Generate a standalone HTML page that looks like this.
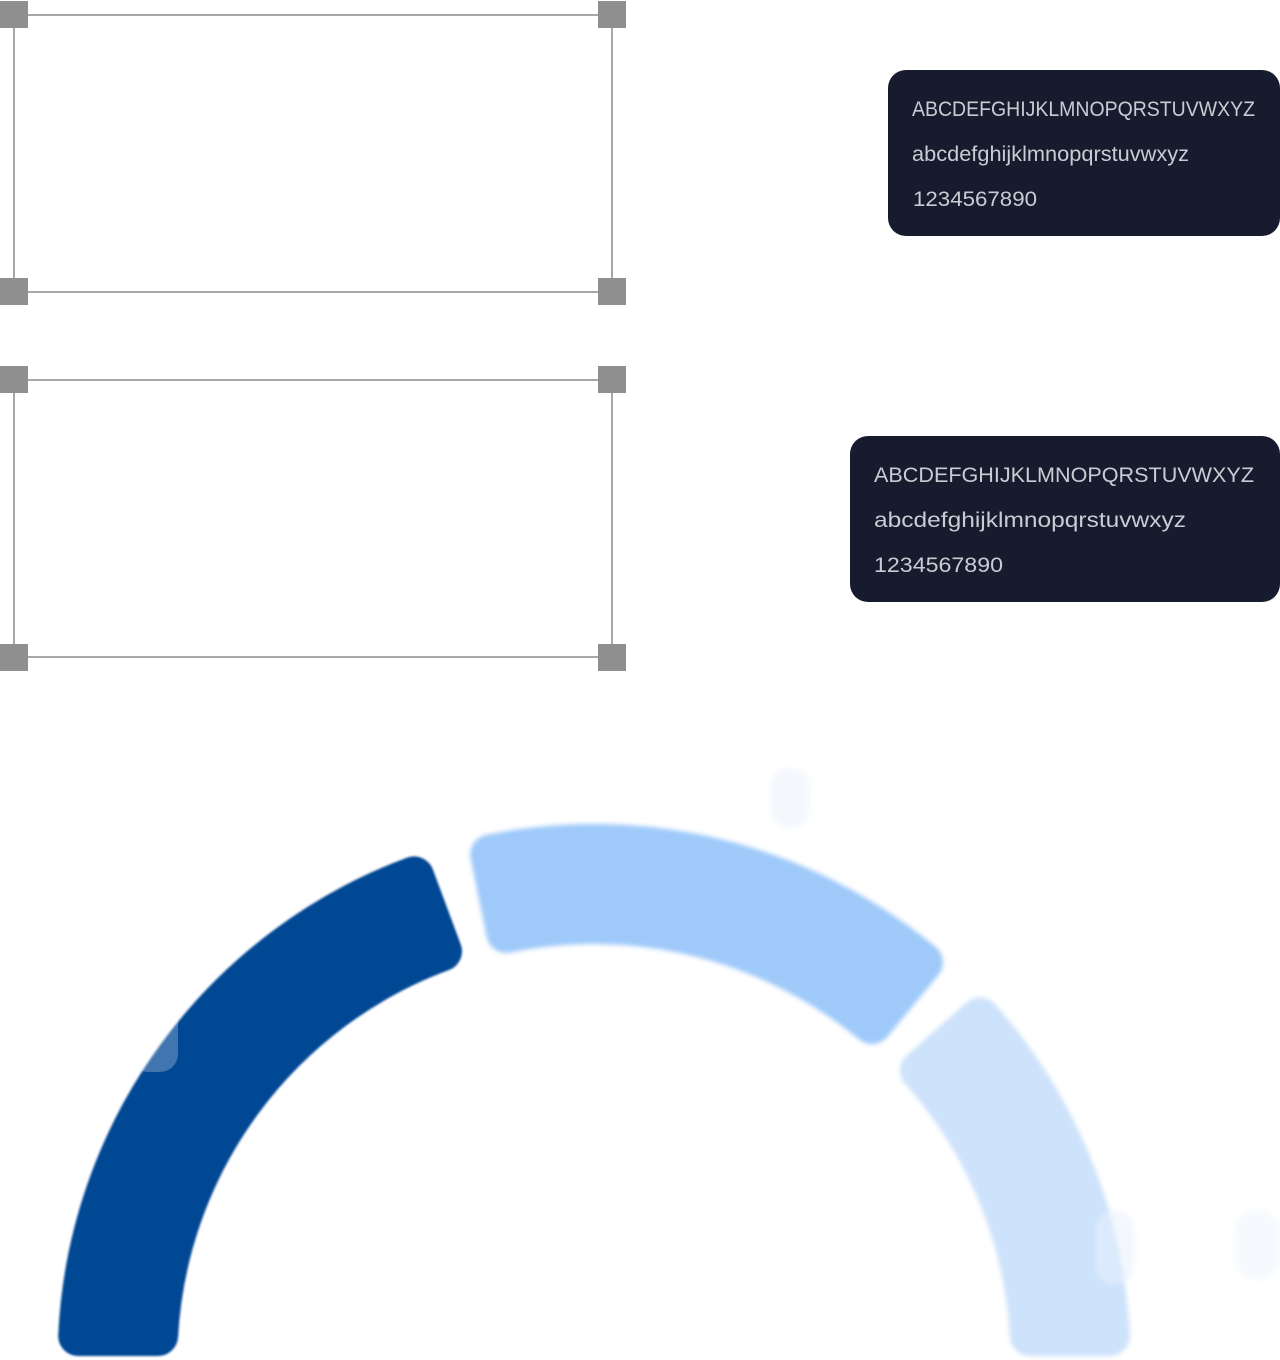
<!DOCTYPE html>
<html><head><meta charset="utf-8"><style>
html,body{margin:0;padding:0;background:#fff;width:1280px;height:1360px;overflow:hidden}
</style></head><body>
<svg width="1280" height="1360" viewBox="0 0 1280 1360" xmlns="http://www.w3.org/2000/svg">
<defs>
<filter id="b" filterUnits="userSpaceOnUse" x="0" y="0" width="1280" height="1360"><feGaussianBlur stdDeviation="2.5"/></filter>
<filter id="b1" filterUnits="userSpaceOnUse" x="0" y="0" width="1280" height="1360"><feGaussianBlur stdDeviation="1"/></filter>
</defs>
<g fill="none" stroke="#8a8a8a" stroke-width="1.5">
<rect x="14" y="15" width="598" height="277"/>
<rect x="14" y="380" width="598" height="277"/>
</g>
<g fill="#8f8f8f">
<rect x="0" y="1" width="28" height="27"/><rect x="598" y="1" width="28" height="27"/>
<rect x="0" y="278" width="28" height="27"/><rect x="598" y="278" width="28" height="27"/>
<rect x="0" y="366" width="28" height="27"/><rect x="598" y="366" width="28" height="27"/>
<rect x="0" y="644" width="28" height="27"/><rect x="598" y="644" width="28" height="27"/>
</g>
<rect x="888" y="70" width="392" height="166" rx="18" fill="#161b2e"/>
<rect x="850" y="436" width="430" height="166" rx="18" fill="#161b2e"/>
<g font-family="Liberation Sans, sans-serif" font-size="21" fill="#c9ccd3">
<text x="912" y="116" textLength="343" lengthAdjust="spacingAndGlyphs">ABCDEFGHIJKLMNOPQRSTUVWXYZ</text>
<text x="912" y="161" textLength="277" lengthAdjust="spacingAndGlyphs">abcdefghijklmnopqrstuvwxyz</text>
<text x="913" y="206" textLength="124" lengthAdjust="spacingAndGlyphs">1234567890</text>
<text x="874" y="482" textLength="380" lengthAdjust="spacingAndGlyphs">ABCDEFGHIJKLMNOPQRSTUVWXYZ</text>
<text x="874" y="527" textLength="312" lengthAdjust="spacingAndGlyphs">abcdefghijklmnopqrstuvwxyz</text>
<text x="874" y="572" textLength="129" lengthAdjust="spacingAndGlyphs">1234567890</text>
</g>
<g stroke-width="40" stroke-linejoin="round">
<path d="M78.2 1336 A516 516 0 0 1 414.1 876.4 L442 951.3 A436 436 0 0 0 158.1 1336 Z" fill="#034694" stroke="#034694" filter="url(#b1)"/>
<path d="M490.2 854.5 A516 516 0 0 1 922.9 962.4 L871.9 1024.1 A436 436 0 0 0 506.3 932.9 Z" fill="#9ec9f9" stroke="#9ec9f9" filter="url(#b)"/>
<path d="M979.9 1017.4 A516 516 0 0 1 1109.8 1336 L1029.9 1336 A436 436 0 0 0 920 1070.5 Z" fill="#cde2fb" stroke="#cde2fb" filter="url(#b)"/>
</g>
<rect x="130" y="996" width="48" height="76" rx="18" fill="#ffffff" opacity="0.25"/>
<rect x="770" y="768" width="40" height="60" rx="18" fill="#eef4fd" opacity="0.6" filter="url(#b)"/>
<rect x="1095" y="1210" width="40" height="75" rx="20" fill="#eaf2fd" opacity="0.5" filter="url(#b)"/>
<rect x="1235" y="1210" width="45" height="70" rx="20" fill="#eef4fd" opacity="0.5" filter="url(#b)"/>
</svg>
</body></html>
